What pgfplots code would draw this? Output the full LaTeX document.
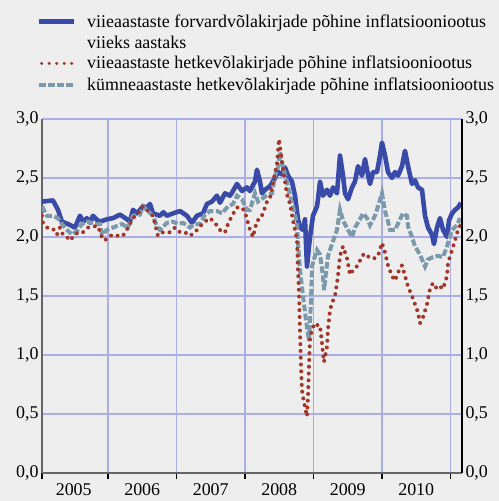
\documentclass[border=0pt]{standalone}
\usepackage{fontspec}
\setmainfont{Liberation Serif}
\usepackage{pgfplots}
\usepackage{pgfplotstable}
\pgfplotsset{compat=1.18}

\definecolor{bg}{HTML}{EEEEEE}
\definecolor{fwdblue}{HTML}{3A4AA8}
\definecolor{spotred}{HTML}{A23628}
\definecolor{tenyr}{HTML}{7C9AAC}
\definecolor{gridc}{HTML}{AAAEE6}
\newcommand\lbl{\fontsize{18}{21}\selectfont}

\tikzset{
  fwd/.style={fwdblue, line width=4.6bp, line join=round},
  spot/.style={spotred, line width=4bp, line cap=round, dash pattern=on 0bp off 6.8bp},
  ten/.style={tenyr, line width=4bp, dash pattern=on 6.7bp off 2.4bp},
}

% 5y forward, 5y spot, 10y spot
\pgfplotstableread{
x y
2005.037 2.30
2005.197 2.31
2005.270 2.23
2005.328 2.13
2005.416 2.11
2005.518 2.08
2005.591 2.18
2005.640 2.13
2005.693 2.16
2005.740 2.12
2005.781 2.18
2005.830 2.15
2005.883 2.13
2005.985 2.15
2006.073 2.16
2006.175 2.19
2006.277 2.15
2006.321 2.13
2006.365 2.23
2006.423 2.20
2006.511 2.26
2006.569 2.25
2006.613 2.28
2006.657 2.20
2006.759 2.18
2006.810 2.21
2006.861 2.18
2006.949 2.20
2007.051 2.22
2007.153 2.18
2007.226 2.12
2007.299 2.18
2007.387 2.20
2007.445 2.28
2007.518 2.30
2007.591 2.35
2007.635 2.29
2007.708 2.37
2007.781 2.35
2007.825 2.39
2007.883 2.45
2007.956 2.39
2008.029 2.42
2008.073 2.39
2008.146 2.47
2008.175 2.57
2008.219 2.47
2008.248 2.37
2008.292 2.40
2008.365 2.43
2008.438 2.50
2008.482 2.55
2008.540 2.53
2008.584 2.59
2008.628 2.52
2008.686 2.47
2008.730 2.35
2008.774 2.15
2008.803 2.08
2008.847 2.06
2008.876 2.15
2008.905 1.75
2008.949 2.00
2008.993 2.18
2009.051 2.26
2009.066 2.32
2009.095 2.47
2009.139 2.35
2009.197 2.40
2009.241 2.35
2009.285 2.42
2009.343 2.37
2009.387 2.69
2009.431 2.52
2009.460 2.37
2009.504 2.32
2009.562 2.42
2009.606 2.47
2009.650 2.60
2009.708 2.52
2009.752 2.66
2009.781 2.57
2009.825 2.45
2009.869 2.55
2009.927 2.55
2009.971 2.69
2010.000 2.80
2010.044 2.69
2010.088 2.55
2010.146 2.50
2010.190 2.55
2010.234 2.52
2010.292 2.60
2010.336 2.73
2010.380 2.60
2010.438 2.45
2010.482 2.48
2010.526 2.42
2010.584 2.40
2010.628 2.18
2010.672 2.08
2010.730 2.02
2010.759 1.94
2010.803 2.08
2010.847 2.16
2010.891 2.06
2010.949 2.00
2010.978 2.14
2011.022 2.20
2011.066 2.23
2011.109 2.25
2011.153 2.29
}\fwdtable

\pgfplotstableread{
x y
2005.037 2.18
2005.051 2.12
2005.110 2.08
2005.197 2.07
2005.255 2.02
2005.299 2.08
2005.343 2.02
2005.401 2.00
2005.445 1.97
2005.489 2.00
2005.562 2.04
2005.635 2.04
2005.708 2.08
2005.781 2.09
2005.854 2.09
2005.912 2.00
2005.956 1.97
2006.000 2.00
2006.073 2.02
2006.146 2.01
2006.219 2.01
2006.292 2.08
2006.365 2.16
2006.438 2.20
2006.511 2.26
2006.584 2.22
2006.657 2.18
2006.730 2.01
2006.803 2.04
2006.905 2.04
2006.978 2.08
2007.051 2.04
2007.124 2.04
2007.197 2.01
2007.270 2.04
2007.343 2.09
2007.416 2.13
2007.489 2.16
2007.562 2.12
2007.606 2.08
2007.664 2.04
2007.708 2.04
2007.752 2.11
2007.810 2.18
2007.883 2.25
2007.956 2.25
2008.000 2.21
2008.029 2.15
2008.073 2.06
2008.117 2.00
2008.175 2.14
2008.219 2.15
2008.263 2.20
2008.321 2.30
2008.365 2.33
2008.409 2.46
2008.467 2.62
2008.496 2.83
2008.540 2.64
2008.569 2.53
2008.613 2.36
2008.657 2.28
2008.701 2.14
2008.759 1.98
2008.774 1.72
2008.788 1.53
2008.803 1.20
2008.818 0.90
2008.832 0.70
2008.861 0.60
2008.890 0.52
2008.905 0.48
2008.920 0.65
2008.934 0.90
2008.949 1.13
2008.978 1.22
2009.022 1.27
2009.066 1.25
2009.095 1.25
2009.124 1.10
2009.153 0.94
2009.197 1.07
2009.212 1.22
2009.241 1.38
2009.270 1.44
2009.314 1.50
2009.358 1.67
2009.387 1.84
2009.431 1.92
2009.489 1.82
2009.533 1.68
2009.577 1.72
2009.650 1.76
2009.708 1.84
2009.752 1.86
2009.825 1.82
2009.898 1.82
2009.942 1.84
2010.000 1.95
2010.044 1.87
2010.088 1.76
2010.146 1.67
2010.190 1.63
2010.234 1.70
2010.292 1.76
2010.336 1.67
2010.380 1.58
2010.438 1.50
2010.482 1.43
2010.526 1.36
2010.555 1.27
2010.599 1.32
2010.657 1.43
2010.701 1.56
2010.745 1.61
2010.803 1.56
2010.847 1.58
2010.891 1.56
2010.949 1.67
2010.964 1.78
2011.022 1.89
2011.066 1.97
2011.109 2.06
2011.153 2.11
}\spottable

\pgfplotstableread{
x y
2005.037 2.26
2005.110 2.18
2005.197 2.18
2005.270 2.16
2005.328 2.11
2005.401 2.06
2005.474 2.02
2005.547 2.05
2005.620 2.11
2005.708 2.13
2005.810 2.11
2005.883 2.11
2005.912 2.02
2005.985 2.06
2006.073 2.08
2006.204 2.11
2006.292 2.08
2006.365 2.18
2006.467 2.19
2006.511 2.26
2006.584 2.22
2006.657 2.18
2006.715 2.09
2006.759 2.06
2006.861 2.12
2006.949 2.13
2007.022 2.11
2007.095 2.12
2007.197 2.08
2007.270 2.11
2007.343 2.11
2007.416 2.19
2007.489 2.22
2007.591 2.22
2007.664 2.20
2007.752 2.26
2007.825 2.28
2007.883 2.35
2007.956 2.32
2008.029 2.23
2008.073 2.23
2008.146 2.37
2008.190 2.30
2008.263 2.33
2008.336 2.36
2008.394 2.37
2008.438 2.52
2008.482 2.59
2008.511 2.72
2008.555 2.59
2008.613 2.47
2008.657 2.35
2008.701 2.26
2008.759 2.12
2008.774 1.95
2008.803 1.72
2008.847 1.50
2008.890 1.30
2008.934 1.12
2008.963 1.45
2008.978 1.75
2009.022 1.84
2009.051 1.89
2009.095 1.85
2009.139 1.67
2009.153 1.55
2009.212 1.84
2009.270 1.94
2009.343 2.06
2009.387 2.23
2009.431 2.14
2009.504 2.06
2009.562 2.00
2009.606 2.08
2009.679 2.15
2009.723 2.20
2009.781 2.16
2009.825 2.10
2009.898 2.18
2009.942 2.26
2010.000 2.37
2010.044 2.22
2010.088 2.13
2010.117 2.06
2010.190 2.06
2010.263 2.15
2010.307 2.20
2010.365 2.18
2010.380 2.09
2010.438 2.00
2010.482 1.92
2010.555 1.85
2010.628 1.75
2010.672 1.81
2010.745 1.83
2010.818 1.84
2010.891 1.83
2010.949 1.92
2011.022 2.06
2011.095 2.10
2011.139 2.16
}\tentable

\begin{document}
\begin{tikzpicture}[x=1bp,y=1bp]
\fill[bg] (0,0) rectangle (499,501);

% legend
\draw[fwd] (39,479.3) -- (74,479.3);
\node[anchor=base west, inner sep=0, font=\lbl] at (87,473.7) {viieaastaste forvardvõlakirjade põhine inflatsiooniootus};
\node[anchor=base west, inner sep=0, font=\lbl] at (87,452.7) {viieks aastaks};
\draw[spot, line width=3.4bp, dash pattern=on 0bp off 7.5bp, dash phase=-2.7bp] (39,437.5) -- (74,437.5);
\node[anchor=base west, inner sep=0, font=\lbl] at (87,432) {viieaastaste hetkevõlakirjade põhine inflatsiooniootus};
\draw[ten] (39,415.5) -- (74,415.5);
\node[anchor=base west, inner sep=0, font=\lbl] at (87,410.3) {kümneaastaste hetkevõlakirjade põhine inflatsiooniootus};

\begin{axis}[
    at={(42bp,28bp)}, anchor=south west,
    scale only axis, width=420bp, height=354bp,
    xmin=2005.037, xmax=2011.168, ymin=0, ymax=3,
    xtick={2005.037,2006,2007,2008,2009,2010,2011},
    xticklabels={},
    extra x ticks={2005.5,2006.5,2007.5,2008.5,2009.5,2010.5},
    extra x tick labels={2005,2006,2007,2008,2009,2010},
    extra x tick style={major tick length=0pt, grid=none,
        xticklabel style={yshift=-7bp}},
    ytick={0,0.5,...,3},
    grid=major,
    major grid style={gridc, line width=1.1bp},
    axis x line*=bottom, axis y line*=left,
    axis line style={-, black!60, line width=2bp},
    xtick align=outside, major tick length=6bp,
    xtick style={black, line width=1.4bp},
    ytick style={draw=none},
    yticklabel style={/pgf/number format/.cd, fixed, fixed zerofill, precision=1, use comma},
    /pgf/number format/assume math mode=true,
    ticklabel style={font=\lbl},
]
\addplot[fwd] table {\fwdtable};
\addplot[ten] table {\tentable};
\addplot[spot] table {\spottable};
\end{axis}

\begin{axis}[
    at={(42bp,28bp)}, anchor=south west,
    scale only axis, width=420bp, height=354bp,
    xmin=2005.037, xmax=2011.168, ymin=0, ymax=3,
    axis x line=none, axis y line*=right,
    axis line style={-, black, line width=1.5bp},
    ytick={0,0.5,...,3},
    ytick style={draw=none},
    yticklabel style={/pgf/number format/.cd, fixed, fixed zerofill, precision=1, use comma},
    /pgf/number format/assume math mode=true,
    ticklabel style={font=\lbl},
]
\end{axis}
\end{tikzpicture}
\end{document}
